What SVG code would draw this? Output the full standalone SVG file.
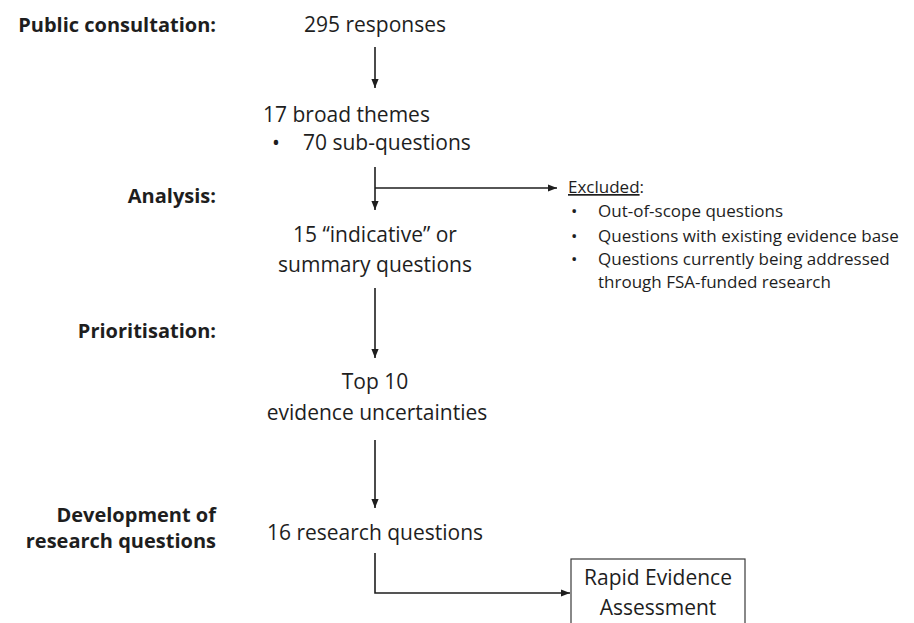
<svg xmlns="http://www.w3.org/2000/svg" width="914" height="623" viewBox="0 0 914 623">
<style>
  text { font-family: "Open Sans", "Liberation Sans", sans-serif; fill: #1e1e1e; }
  .lbl { font-weight: bold; font-size: 20px; text-anchor: end; }
  .main { font-size: 21px; }
  .mid { font-size: 21px; text-anchor: middle; }
  .small { font-size: 17px; }
  .conn { stroke: #1e1e1e; stroke-width: 1.6; fill: none; }
  .box { fill: #ffffff; stroke: #3a3a3a; stroke-width: 1.2; }
</style>
<defs>
  <marker id="arr" viewBox="0 0 10 8" markerWidth="9" markerHeight="8" refX="10" refY="4" orient="auto" markerUnits="userSpaceOnUse">
    <path d="M0,0 L10,4 L0,8 z" fill="#1e1e1e"/>
  </marker>
</defs>
<rect width="914" height="623" fill="#ffffff"/>

<g id="stage-labels">
  <text class="lbl" x="216" y="32">Public consultation:</text>
  <text class="lbl" x="216" y="203">Analysis:</text>
  <text class="lbl" x="216" y="338">Prioritisation:</text>
  <text class="lbl" x="216" y="522">Development of</text>
  <text class="lbl" x="216" y="548">research questions</text>
</g>

<g id="n-responses">
  <text class="mid" x="375" y="32">295 responses</text>
</g>
<g id="n-themes">
  <text class="main" x="263" y="122">17 broad themes</text>
  <text class="main" x="272" y="150">•</text>
  <text class="main" x="303" y="150">70 sub-questions</text>
</g>
<g id="n-excluded">
  <text class="small" x="568" y="193"><tspan text-decoration="underline">Excluded</tspan>:</text>
  <text class="small" x="571" y="217">•</text>
  <text class="small" x="598" y="217">Out-of-scope questions</text>
  <text class="small" x="571" y="242">•</text>
  <text class="small" x="598" y="242">Questions with existing evidence base</text>
  <text class="small" x="571" y="265">•</text>
  <text class="small" x="598" y="265">Questions currently being addressed</text>
  <text class="small" x="598" y="288">through FSA-funded research</text>
</g>
<g id="n-indicative">
  <text class="mid" x="375" y="242">15 “indicative” or</text>
  <text class="mid" x="375" y="272">summary questions</text>
</g>
<g id="n-top10">
  <text class="mid" x="375" y="389">Top 10</text>
  <text class="mid" x="377" y="420">evidence uncertainties</text>
</g>
<g id="n-research">
  <text class="mid" x="375" y="540">16 research questions</text>
</g>
<g id="n-rea">
  <rect class="box" x="571" y="559" width="174" height="80"/>
  <text class="mid" x="658" y="585">Rapid Evidence</text>
  <text class="mid" x="658" y="615">Assessment</text>
</g>

<g id="connectors">
  <line class="conn" x1="375" y1="47" x2="375" y2="88" marker-end="url(#arr)"/>
  <line class="conn" x1="375" y1="167" x2="375" y2="210" marker-end="url(#arr)"/>
  <line class="conn" x1="375" y1="188" x2="557" y2="188" marker-end="url(#arr)"/>
  <line class="conn" x1="375" y1="288" x2="375" y2="358" marker-end="url(#arr)"/>
  <line class="conn" x1="375" y1="440" x2="375" y2="508" marker-end="url(#arr)"/>
  <path class="conn" d="M375,553 V593 H570" marker-end="url(#arr)"/>
</g>
</svg>
